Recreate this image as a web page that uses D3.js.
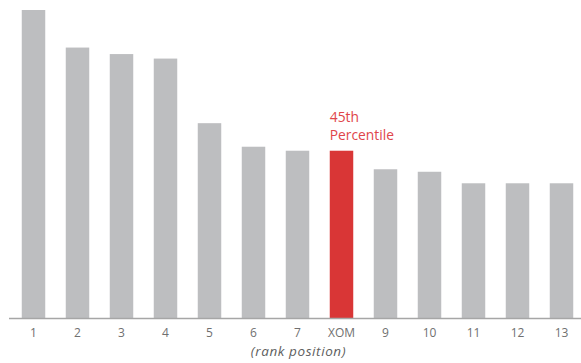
<!DOCTYPE html>
<html>
<head>
<meta charset="utf-8">
<script src="https://cdn.jsdelivr.net/npm/d3@7"></script>
<style>
  html, body { margin: 0; padding: 0; background: #fff; }
  svg { display: block; }
</style>
</head>
<body>
<svg id="chart" width="581" height="363"></svg>
<script>
const categories = ["1","2","3","4","5","6","7","XOM","9","10","11","12","13"];
const values = [308, 270.5, 264, 259.5, 195, 171.5, 167.5, 167.5, 149, 146.5, 135, 135, 135];
const highlight = "XOM";
const annotationLines = ["45th", "Percentile"];
const axisTitle = "(rank position)";

const svg = d3.select("#chart");
const baseY = 318.5;

const x = d3.scaleBand()
  .domain(categories)
  .range([11.5, 583.5])
  .paddingInner(0.466)
  .paddingOuter(0.233);

const y = d3.scaleLinear()
  .domain([0, 308])
  .range([baseY, 10]);

svg.append("g")
  .selectAll("rect")
  .data(categories.map((c, i) => ({c, v: values[i]})))
  .join("rect")
  .attr("x", d => x(d.c))
  .attr("y", d => y(d.v))
  .attr("width", x.bandwidth())
  .attr("height", d => y(0) - y(d.v))
  .attr("fill", d => d.c === highlight ? "#d93636" : "#bdbec0");

// baseline
svg.append("line")
  .attr("x1", 9).attr("x2", 581)
  .attr("y1", baseY).attr("y2", baseY)
  .attr("stroke", "#a6a6a6")
  .attr("stroke-width", 1.5);

const axis = d3.axisBottom(x).tickSize(0).tickPadding(10);
const ag = svg.append("g")
  .attr("transform", `translate(0,${baseY})`)
  .call(axis);
ag.select(".domain").remove();
ag.selectAll("text")
  .attr("font-family", "'Open Sans', sans-serif")
  .attr("font-size", 12)
  .attr("fill", "#707070");

svg.append("text")
  .attr("x", 298.5)
  .attr("y", 356)
  .attr("text-anchor", "middle")
  .attr("font-family", "'Open Sans', sans-serif")
  .attr("font-style", "italic")
  .attr("font-size", 13.5)
  .attr("letter-spacing", 0.6)
  .attr("fill", "#606060")
  .text(axisTitle);

const hx = x(highlight);
const ann = svg.append("text")
  .attr("font-family", "'Open Sans', sans-serif")
  .attr("font-size", 13.8)
  .attr("fill", "#e0454a");
annotationLines.forEach((t, i) => {
  ann.append("tspan")
    .attr("x", hx)
    .attr("y", 122 + i * 18)
    .text(t);
});
</script>
</body>
</html>
